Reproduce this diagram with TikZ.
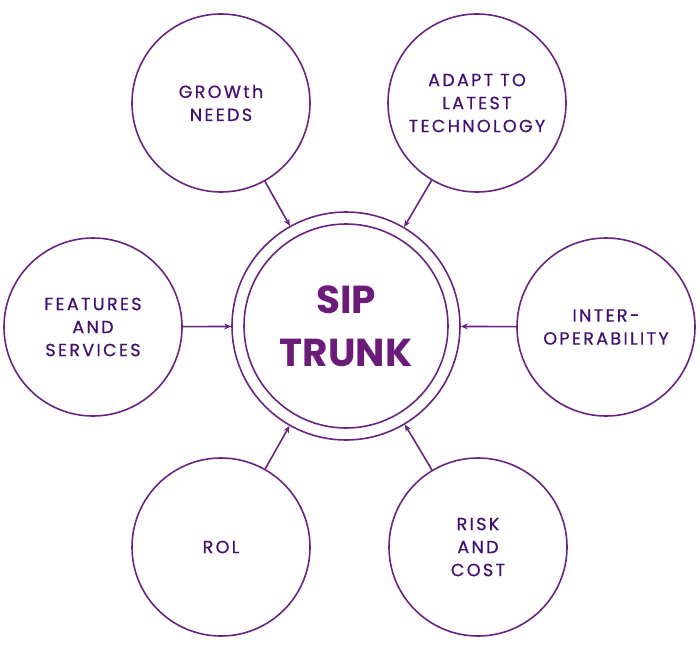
\documentclass[tikz,border=0pt]{standalone}
\usepackage{fontspec}
\setmainfont{Poppins}
\newfontfamily\labfont[LetterSpace=13, FakeBold=0.6]{Poppins}
\usetikzlibrary{arrows.meta}
\definecolor{ringcol}{RGB}{104,36,128}
\definecolor{labcol}{RGB}{66,16,110}
\definecolor{sipcol}{RGB}{106,28,120}
\tikzset{
  bubble/.style={circle, draw=ringcol, line width=1.6pt, minimum size=178pt, inner sep=0pt,
    align=center, text=labcol, font=\labfont\fontsize{17.6}{23}\selectfont},
  feed/.style={draw=ringcol, line width=1.6pt, -{Stealth[length=7pt,width=6pt]}}
}

\begin{document}
\begin{tikzpicture}[x=1pt, y=-1pt, line join=round, line cap=round]
      \useasboundingbox (0,0) rectangle (700,650);
      % centre
      \node[circle, draw=ringcol, line width=1.6pt, minimum size=228pt] (ring) at (346,326) {};
      \node[circle, draw=ringcol, line width=1.6pt, minimum size=204pt, align=center,
        text=sipcol, font=\fontsize{39}{53}\selectfont\bfseries] (sip) at (346,326) {SIP\\TRUNK};
      % outer circles
      \node[bubble] (grow) at (221,103) {GROWth\\NEEDS};
      \node[bubble] (adapt) at (477,103) {ADAPT TO\\LATEST\\TECHNOLOGY};
      \node[bubble] (feat) at (93,327) {FEATURES\\AND\\SERVICES};
      \node[bubble] (inter) at (606,327) {INTER-\\OPERABILITY};
      \node[bubble] (rol) at (221,547) {ROL};
      \node[bubble] (risk) at (478,547) {RISK\\AND\\COST};
      % arrows
      \foreach \n in {grow, adapt, feat, inter, rol, risk}
        \draw[feed] (\n) -- (ring);
    \end{tikzpicture}
\end{document}
